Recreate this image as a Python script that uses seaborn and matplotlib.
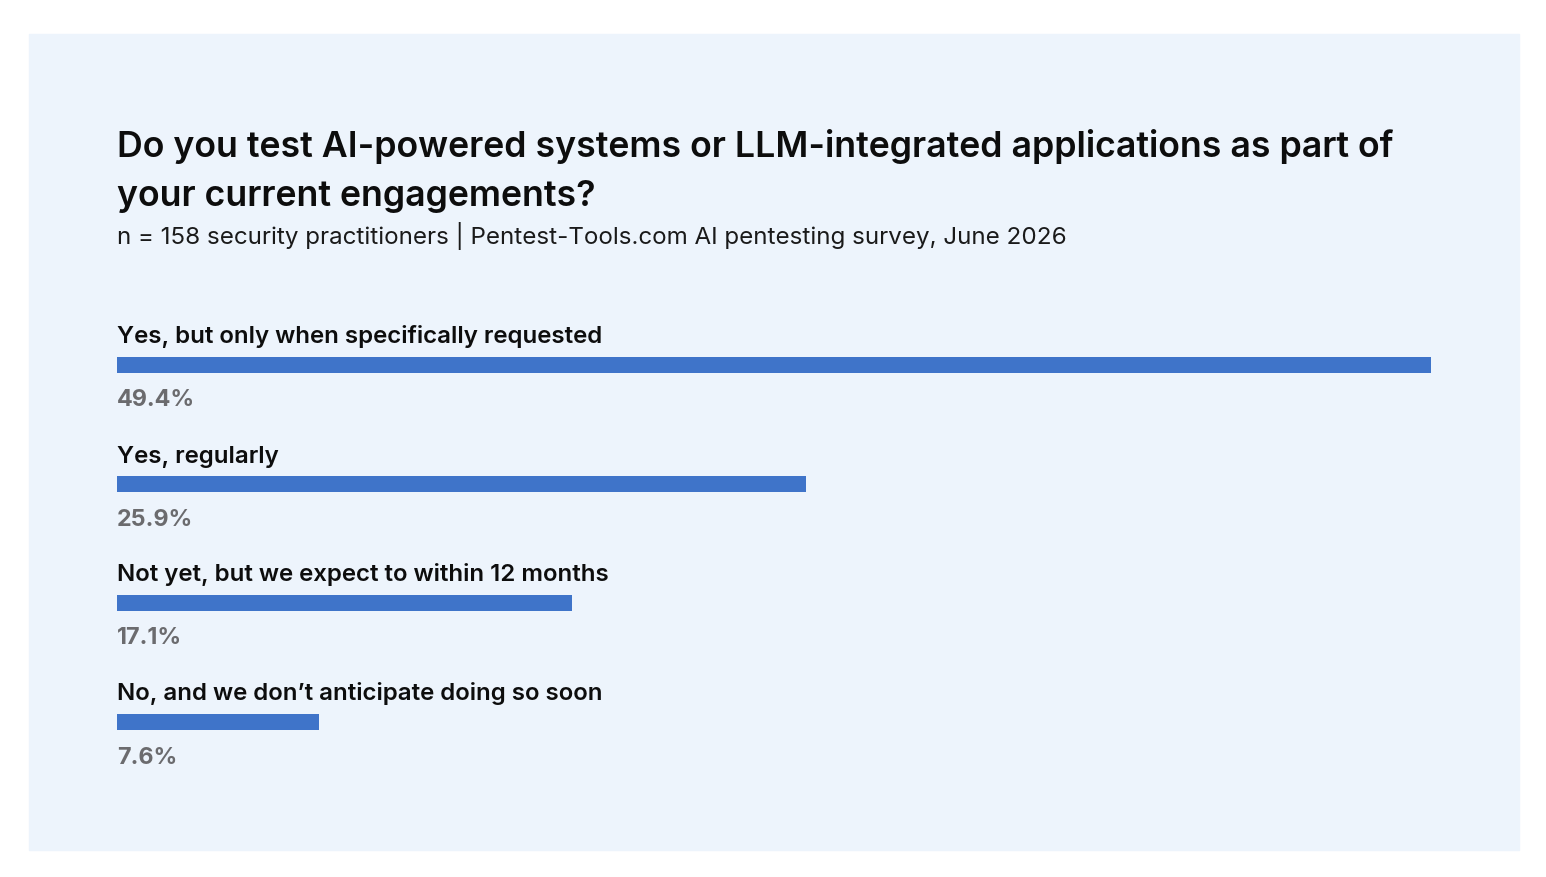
import matplotlib
matplotlib.use("Agg")
import matplotlib.pyplot as plt
import seaborn as sns
from matplotlib.patches import Rectangle

## survey answers, top to bottom, and share of respondents (%)
answers = [
    "Yes, but only when specifically requested",
    "Yes, regularly",
    "Not yet, but we expect to within 12 months",
    "No, and we don\u2019t anticipate doing so soon",
]
shares = [49.4, 25.9, 17.1, 7.6]
pct_labels = ["%.1f%%" % v for v in shares]

title_lines = [
    "Do you test AI-powered systems or LLM-integrated applications as part of",
    "your current engagements?",
]
subtitle = "n = 158 security practitioners | Pentest-Tools.com AI pentesting survey, June 2026"

sns.set_theme(style="white")
plt.rcParams['font.family'] = ['Inter', 'DejaVu Sans']

W, H = 1546, 878
fig = plt.figure(figsize=(W / 100, H / 100), dpi=100)
fig.patch.set_facecolor("white")

## light blue card behind everything
fig.patches.append(Rectangle((29 / W, 1 - 851 / H), (1519 - 29) / W, (851 - 35) / H,
                             transform=fig.transFigure, color="#EDF4FC", zorder=-10))

## title + subtitle
fig.text(117 / W, 1 - 157 / H, title_lines[0], fontsize=25.7, fontweight="semibold",
         color="#0d0d0d", ha="left", va="baseline")
fig.text(117 / W, 1 - 206 / H, title_lines[1], fontsize=25.7, fontweight="semibold",
         color="#0d0d0d", ha="left", va="baseline")
fig.text(117 / W, 1 - 244 / H, subtitle, fontsize=17.4, color="#1a1a1a",
         ha="left", va="baseline")

## bars
row_px = 119.0
ax = fig.add_axes([117 / W, 1 - 782 / H, (1431 - 117) / W, (782 - 306) / H])
ax.set_facecolor("none")
ax.set_zorder(5)
sns.barplot(x=shares, y=answers, orient="h", color="#3F74C9", saturation=1,
            width=16 / row_px, edgecolor="none", linewidth=0, ax=ax)
ax.set_xlim(0, max(shares))
ax.set_ylim(3.5, -0.5)

for i, (lab, pct) in enumerate(zip(answers, pct_labels)):
    ax.text(0, i - 22 / row_px, lab, fontsize=17.3, fontweight="semibold",
            color="#0d0d0d", ha="left", va="baseline")
    ax.text(0, i + 41 / row_px, pct, fontsize=16.8, fontweight="bold",
            color="#6B6B6E", ha="left", va="baseline")

ax.set_xticks([])
ax.set_yticks([])
ax.set_xlabel("")
ax.set_ylabel("")
sns.despine(ax=ax, left=True, bottom=True)

fig.savefig("out.png", dpi=100, facecolor="white")
